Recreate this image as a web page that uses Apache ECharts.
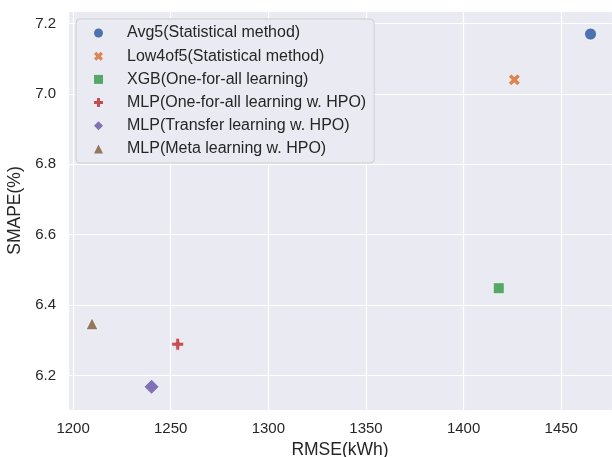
<!DOCTYPE html>
<html><head><meta charset="utf-8">
<script src="https://cdn.jsdelivr.net/npm/echarts@6/dist/echarts.min.js"></script>
<style>html,body{margin:0;padding:0;background:#fff}#c{width:612px;height:457px}</style>
</head><body><div id="c"></div>
<script>
const seriesNames = [
  'Avg5(Statistical method)',
  'Low4of5(Statistical method)',
  'XGB(One-for-all learning)',
  'MLP(One-for-all learning w. HPO)',
  'MLP(Transfer learning w. HPO)',
  'MLP(Meta learning w. HPO)'
];
const rmseValues = [1465, 1426, 1418, 1253.6, 1240.2, 1209.7];
const smapeValues = [7.17, 7.04, 6.448, 6.289, 6.168, 6.347];
const colors = ['#4C72B0', '#DD8452', '#55A868', '#C44E52', '#8172B3', '#937860'];
const xName = 'RMSE(kWh)';
const yName = 'SMAPE(%)';

const plusPath = 'path://M4,0H8V4H12V8H8V12H4V8H0V4H4Z';
const xPath = 'path://M0,3L3,0L6,3L9,0L12,3L9,6L12,9L9,12L6,9L3,12L0,9L3,6Z';
const symbols = ['circle', xPath, 'rect', plusPath, 'diamond', 'triangle'];
const sizes = [12, 12, 11, 12, 15, 12];
const legendIcons = ['circle', xPath, 'rect', plusPath, 'diamond', 'triangle'];

const font = "'Liberation Sans', Arial, sans-serif";
const textColor = '#262626';

const chart = echarts.init(document.getElementById('c'), null, {renderer: 'canvas'});
chart.setOption({
  animation: false,
  backgroundColor: '#ffffff',
  grid: {left: 68, right: 0, top: 11, bottom: 47, backgroundColor: '#EAEAF2', show: true, borderWidth: 0,
    containLabel: false, outerBoundsMode: 'none'},
  xAxis: {
    type: 'value', min: 1197.4, max: 1476, splitNumber: 5,
    name: xName, nameLocation: 'middle', nameGap: 28,
    nameTextStyle: {fontFamily: font, fontSize: 17.5, color: textColor},
    axisLine: {show: false}, axisTick: {show: false},
    axisLabel: {fontFamily: font, fontSize: 15, color: textColor, margin: 11, showMinLabel: false, showMaxLabel: false,
      formatter: v => String(Math.round(v))},
    splitLine: {show: true, lineStyle: {color: '#ffffff', width: 1.2}}
  },
  yAxis: {
    type: 'value', min: 6.102, max: 7.2356, splitNumber: 5,
    name: yName, nameLocation: 'middle', nameGap: 37, nameRotate: 90,
    nameTextStyle: {fontFamily: font, fontSize: 17.5, color: textColor},
    axisLine: {show: false}, axisTick: {show: false},
    axisLabel: {fontFamily: font, fontSize: 15, color: textColor, margin: 12, showMinLabel: false, showMaxLabel: false,
      formatter: v => v.toFixed(1)},
    splitLine: {show: true, lineStyle: {color: '#ffffff', width: 1.2}}
  },
  legend: {
    orient: 'vertical', left: 76, top: 19,
    padding: [5, 8, 5, 18],
    itemGap: 5.2, itemWidth: 9, itemHeight: 9,
    backgroundColor: '#EAEAF2', borderColor: 'rgba(204,204,204,0.9)', borderWidth: 1, borderRadius: 4,
    textStyle: {fontFamily: font, fontSize: 16, color: textColor, lineHeight: 18, padding: [0, 0, 0, 19]},
    data: seriesNames.map((n, i) => ({name: n, icon: legendIcons[i], itemStyle: {borderWidth: 0}}))
  },
  series: seriesNames.map((n, i) => ({
    name: n, type: 'scatter',
    symbol: symbols[i], symbolSize: sizes[i],
    itemStyle: {color: colors[i], borderColor: '#ffffff', borderWidth: 0.75, opacity: 1},
    data: [[rmseValues[i], smapeValues[i]]]
  }))
});
</script></body></html>
